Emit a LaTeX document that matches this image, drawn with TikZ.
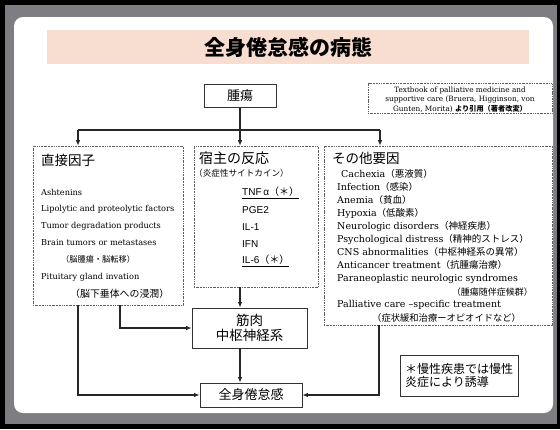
\documentclass[tikz,border=0pt]{standalone}
\usepackage{fontspec}
\setmainfont{DejaVu Serif}
\newfontfamily\jpfont{Noto Sans CJK JP}
\newfontfamily\jptitle{Noto Sans CJK JP Black}
\newfontfamily\armfont{Liberation Sans}
\newcommand{\fsz}[1]{\fontsize{#1}{#1}\selectfont}
\newcommand{\jp}[1]{{\jpfont #1}}
\definecolor{framegray}{RGB}{126,126,130}
\definecolor{titlepink}{RGB}{248,221,209}
\definecolor{dotgray}{RGB}{95,95,95}
\usetikzlibrary{arrows.meta,positioning,calc}

\begin{document}
\begin{tikzpicture}[
  x=1pt,y=-1pt,
  every node/.style={inner sep=0pt},
  solidbox/.style={draw=black!80,line width=0.8pt,fill=white},
  dotbox/.style={draw=dotgray,line width=0.55pt,
                 dash pattern=on 1.2pt off 0.9pt on 0.4pt off 0.9pt},
  plainline/.style={line width=1.2pt,black!85},
  arr/.style={-{Latex[length=5.5pt,width=4.5pt]},line width=1.3pt,black!85},
  item/.style={anchor=west,font=\fsz{8.2}},
  otheritem/.style={anchor=west,font=\fsz{9.5}},
  cyto/.style={anchor=west,font=\armfont\fsz{10}},
  heading/.style={anchor=west,font=\jpfont\fsz{13.5}},
]
  \useasboundingbox (0,0) rectangle (560,429);

  % Frame
  \fill[black] (0,0) rectangle (560,429);
  \fill[framegray] (5,5) rectangle (557,424);
  \fill[white,rounded corners=9pt] (14,17) rectangle (553,413);

  % Title
  \fill[titlepink] (47,30) rectangle (529,64);
  \node[font=\jptitle\fsz{21}] (title) at (288,47) {全身倦怠感の病態};

  % Source
  \node[dotbox,minimum width=184pt,minimum height=30pt] (cite) at (460,98.5) {};
  \node[align=center,font=\fontsize{7.3}{9.6}\selectfont] (citetext) at (460,99.5) {%
    Textbook of palliative medicine and\\
    supportive care (Bruera, Higginson, von\\
    Gunten, Morita) {\jpfont\bfseries\fontsize{7.2}{9.6}\selectfont より引用（著者改変）}};

  % Tumour
  \node[solidbox,minimum width=72pt,minimum height=23pt,font=\jpfont\fsz{13}] (tumor) at (240,95.5) {腫瘍};

  % Three groups of causes
  \node[dotbox,minimum width=150pt,minimum height=159pt] (direct) at (108,225.5) {};
  \node[dotbox,minimum width=124pt,minimum height=141pt] (host) at (256,216.5) {};
  \node[dotbox,minimum width=228pt,minimum height=179pt] (other) at (438,235.5) {};

  % Direct factors
  \node[heading] (directhd) at (41,160) {直接因子};
  \node[item] (d1) at (41,192) {Ashtenins};
  \node[item] (d2) at (41,209) {Lipolytic and proteolytic factors};
  \node[item] (d3) at (41,226) {Tumor degradation products};
  \node[item] (d4) at (41,243) {Brain tumors or metastases};
  \node[anchor=west,font=\jpfont\fsz{8.2}] (d5) at (61,259) {（脳腫瘍・脳転移）};
  \node[item] (d6) at (41,277) {Pituitary gland invation};
  \node[anchor=west,font=\jpfont\fsz{9.9}] (d7) at (70,294) {（脳下垂体への浸潤）};

  % Host response
  \node[heading,font=\jpfont\fsz{14}] (hosthd) at (199,158) {宿主の反応};
  \node[anchor=west,font=\jpfont\fsz{8.6}] (hostsub) at (194,173) {（炎症性サイトカイン）};
  \node[cyto] (tnf) at (242,193) {\underline{TNF\,α\jp{（＊）}}};
  \node[cyto] (pge) at (242,210) {PGE2};
  \node[cyto] (il1) at (242,227) {IL-1};
  \node[cyto] (ifn) at (242,244) {IFN};
  \node[cyto] (il6) at (242,261) {\underline{IL-6\jp{（＊）}}};

  % Other factors
  \node[heading] (otherhd) at (332,158) {その他要因};
  \node[otheritem] (o1) at (341,174) {Cachexia\jp{（悪液質）}};
  \node[otheritem] (o2) at (337,187) {Infection\jp{（感染）}};
  \node[otheritem] (o3) at (337,200) {Anemia\jp{（貧血）}};
  \node[otheritem] (o4) at (337,213) {Hypoxia\jp{（低酸素）}};
  \node[otheritem] (o5) at (337,226) {Neurologic disorders\jp{（神経疾患）}};
  \node[otheritem] (o6) at (337,239) {Psychological distress\jp{（精神的ストレス）}};
  \node[otheritem] (o7) at (337,252) {CNS abnormalities\jp{（中枢神経系の異常）}};
  \node[otheritem] (o8) at (337,265) {Anticancer treatment\jp{（抗腫瘍治療）}};
  \node[otheritem] (o9) at (337,279) {Paraneoplastic neurologic syndromes};
  \node[anchor=east,font=\jpfont\fsz{9}] (o10) at (533,292) {（腫瘍随伴症候群）};
  \node[otheritem] (o11) at (337,305) {Palliative care --specific treatment};
  \node[anchor=west,font=\jpfont\fsz{9.3}] (o12) at (372,318) {（症状緩和治療ーオピオイドなど）};

  % Results
  \node[solidbox,minimum width=115pt,minimum height=40pt,align=center,
        font=\jpfont\fsz{13.5}] (muscle) at (249.5,328) {筋肉\\[1pt]中枢神経系};
  \node[solidbox,minimum width=102pt,minimum height=24pt,font=\jpfont\fsz{13}] (fatigue) at (251,395) {全身倦怠感};
  \node[solidbox,minimum width=118pt,minimum height=41pt,align=left,
        font=\jpfont\fsz{12}] (note) at (459,375.5) {＊慢性疾患では慢性\\[1pt]炎症により誘導};

  % Connectors
  \coordinate (split) at (240,130);
  \coordinate (splitl) at (78,130);
  \coordinate (splitr) at (380,130);
  \draw[plainline] (tumor.south) -- (split);
  \draw[plainline] (splitl) -- (splitr);
  \draw[arr,line width=1.1pt] (splitl) -- (splitl |- direct.north);
  \draw[arr,line width=1.1pt] (split) -- (split |- host.north);
  \draw[arr,line width=1.1pt] (splitr) -- (splitr |- other.north);

  \draw[arr] (splitl |- direct.south) |- (fatigue.west);
  \draw[arr] ([xshift=12pt]direct.south) |- (muscle.west);
  \draw[arr] (split |- host.south) -- (split |- muscle.north);
  \draw[arr] (split |- muscle.south) -- (split |- fatigue.north);
  \draw[arr] ([xshift=-59pt]other.south) |- (fatigue.east);
\end{tikzpicture}
\end{document}
